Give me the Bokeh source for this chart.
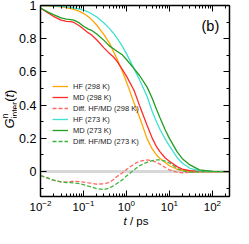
from bokeh.plotting import figure
from bokeh.models import (LogAxis, LinearAxis, Range1d, Legend, LegendItem, Span,
                          Label, FixedTicker, LogTicker, CustomJSTickFormatter, Div)
from bokeh.layouts import row, column
from bokeh.embed import file_html
from bokeh.resources import INLINE

# ---- data ----
t = [0.01, 0.015, 0.02, 0.03, 0.04, 0.05, 0.06, 0.08, 0.1, 0.13, 0.15, 0.2, 0.3, 0.4, 0.5,
     0.6, 0.8, 1, 1.5, 2, 3, 4, 5, 6, 8, 10, 15, 20, 30, 50, 100, 250]

hf_298 = [1.000, 0.998, 0.996, 0.992, 0.987, 0.982, 0.976, 0.965, 0.953, 0.932, 0.918, 0.884,
          0.825, 0.775, 0.722, 0.680, 0.605, 0.540, 0.415, 0.330, 0.200, 0.135, 0.100, 0.080,
          0.055, 0.035, 0.014, 0.007, 0.002, 0.000, 0.000, 0.000]
md_298 = [0.985, 0.955, 0.935, 0.912, 0.905, 0.903, 0.898, 0.878, 0.858, 0.835, 0.825, 0.795,
          0.745, 0.712, 0.690, 0.665, 0.615, 0.575, 0.490, 0.400, 0.280, 0.200, 0.150, 0.120,
          0.082, 0.062, 0.030, 0.015, 0.005, 0.001, 0.000, 0.000]
diff_298 = [-0.024, -0.040, -0.052, -0.062, -0.063, -0.060, -0.058, -0.060, -0.063, -0.068,
            -0.070, -0.075, -0.074, -0.065, -0.048, -0.030, -0.008, 0.012, 0.045, 0.062,
            0.070, 0.066, 0.055, 0.045, 0.025, 0.010, -0.004, -0.007, -0.005, -0.002, 0.000, 0.000]
hf_273 = [1.000, 0.999, 0.998, 0.995, 0.992, 0.989, 0.985, 0.979, 0.972, 0.960, 0.952, 0.932,
          0.895, 0.862, 0.833, 0.805, 0.755, 0.710, 0.620, 0.555, 0.455, 0.360, 0.300, 0.255,
          0.195, 0.155, 0.085, 0.050, 0.020, 0.006, 0.001, 0.000]
md_273 = [0.985, 0.960, 0.945, 0.925, 0.918, 0.915, 0.912, 0.895, 0.875, 0.858, 0.852, 0.830,
          0.790, 0.757, 0.740, 0.725, 0.703, 0.675, 0.620, 0.580, 0.510, 0.440, 0.375, 0.325,
          0.250, 0.200, 0.120, 0.078, 0.040, 0.010, 0.001, 0.000]
diff_273 = [-0.024, -0.040, -0.052, -0.062, -0.066, -0.067, -0.068, -0.072, -0.078, -0.088,
            -0.092, -0.103, -0.108, -0.100, -0.085, -0.072, -0.050, -0.027, 0.010, 0.035,
            0.056, 0.066, 0.070, 0.070, 0.063, 0.052, 0.020, 0.005, -0.003, -0.002, 0.000, 0.000]

labels = ["HF (298 K)", "MD (298 K)", "Diff. HF/MD (298 K)",
          "HF (273 K)", "MD (273 K)", "Diff. HF/MD (273 K)"]
y_ticks = [0, 0.2, 0.4, 0.6, 0.8, 1.0]
y_tick_labels = ["0", "0.2", "0.4", "0.6", "0.8", "1"]
y_minor = [-0.1, 0.1, 0.3, 0.5, 0.7, 0.9]
panel_tag = "(b)"
y_title = ('<i>G</i><sup style="font-size:8.5px;line-height:0">n</sup>'
           '<sub style="font-size:8.5px;line-height:0;margin-left:-4.8px">inter</sub>(<i>t</i>)')
x_title = '<i>t</i> / ps'

FONT = "Liberation Sans"
FIG_W, FIG_H = 217, 215
YD_W, XD_H = 16, 13

p = figure(width=FIG_W, height=FIG_H, x_axis_type="log",
           x_range=Range1d(0.01, 250), y_range=Range1d(-0.15, 1.0),
           output_backend="svg", toolbar_location=None,
           min_border_left=23, min_border_right=4, min_border_top=5, min_border_bottom=19)
p.xgrid.visible = False
p.ygrid.visible = False
p.outline_line_color = "black"
p.outline_line_width = 1.2

def style_axis(ax, show_labels=True):
    ax.axis_line_width = 1.3
    ax.axis_line_color = "black"
    ax.major_tick_in = 6
    ax.major_tick_out = 0
    ax.minor_tick_in = 3
    ax.minor_tick_out = 0
    ax.major_tick_line_color = "black"
    ax.minor_tick_line_color = "black"
    ax.major_label_text_font = FONT
    ax.major_label_text_color = "black"
    if not show_labels:
        ax.major_label_text_font_size = "0px"
        ax.major_label_standoff = 0

xb = p.xaxis[0]
xb.ticker = LogTicker(num_minor_ticks=10)
style_axis(xb)
xb.major_label_text_font_size = "11.5px"
xb.major_label_standoff = 3

yl = p.yaxis[0]
yl.ticker = FixedTicker(ticks=y_ticks, minor_ticks=y_minor)
yl.major_label_overrides = {v: s for v, s in zip(y_ticks, y_tick_labels)}
style_axis(yl)
yl.major_label_text_font_size = "12.5px"
yl.major_label_standoff = 4

xt = LogAxis(ticker=LogTicker(num_minor_ticks=10))
style_axis(xt, False)
xt.formatter = CustomJSTickFormatter(code="return ''")
p.add_layout(xt, "above")

yr = LinearAxis(ticker=FixedTicker(ticks=y_ticks, minor_ticks=y_minor))
style_axis(yr, False)
yr.formatter = CustomJSTickFormatter(code="return ''")
p.add_layout(yr, "right")

p.add_layout(Span(location=0, dimension="width", line_color="#d8d8d8", line_width=3,
                  level="underlay"))

series = [(hf_298, "#ffa500", "solid"), (md_298, "#ff2a2a", "solid"),
          (diff_298, "#ff6666", "4 2"), (hf_273, "#40e0d0", "solid"),
          (md_273, "#1f9e1f", "solid"), (diff_273, "#3cb43c", "4 2")]
items = []
for (vals, col, dash), lab in zip(series, labels):
    r = p.line(t, vals, line_color=col, line_width=1.3, line_dash=dash)
    items.append(LegendItem(label=lab, renderers=[r]))

leg = Legend(items=items, location=(12, 50), orientation="vertical",
             background_fill_alpha=0, border_line_color=None, padding=0, margin=0,
             spacing=1, glyph_width=16, glyph_height=10, label_height=10,
             label_standoff=5, label_text_font=FONT, label_text_font_size="7.5px",
             label_text_color="#222222")
p.add_layout(leg, "center")

p.add_layout(Label(x=161, y=163, x_units="screen", y_units="screen", text=panel_tag,
                   text_font=FONT, text_font_size="14.5px", text_color="black"))

ydiv = Div(width=YD_W, height=FIG_H, margin=0, text=(
    f'<div style="position:relative;width:{YD_W}px;height:{FIG_H}px;">'
    '<div style="position:absolute;left:9px;top:109px;'
    'transform:translate(-50%,-50%) rotate(-90deg);white-space:nowrap;'
    f"font-family:'{FONT}';font-size:13px;line-height:13px;color:black;\">"
    f'{y_title}</div></div>'))

xdiv = Div(width=YD_W + FIG_W, height=XD_H, margin=0, text=(
    f'<div style="position:relative;width:{YD_W + FIG_W}px;height:{XD_H}px;">'
    '<div style="position:absolute;left:136px;top:0px;transform:translateX(-50%);'
    f"white-space:nowrap;font-family:'{FONT}';font-size:11.5px;line-height:12px;color:black;\">"
    f'{x_title}</div></div>'))

layout = column(row(ydiv, p, spacing=0), xdiv, spacing=0)

open("out.html", "w").write(file_html(layout, INLINE))
